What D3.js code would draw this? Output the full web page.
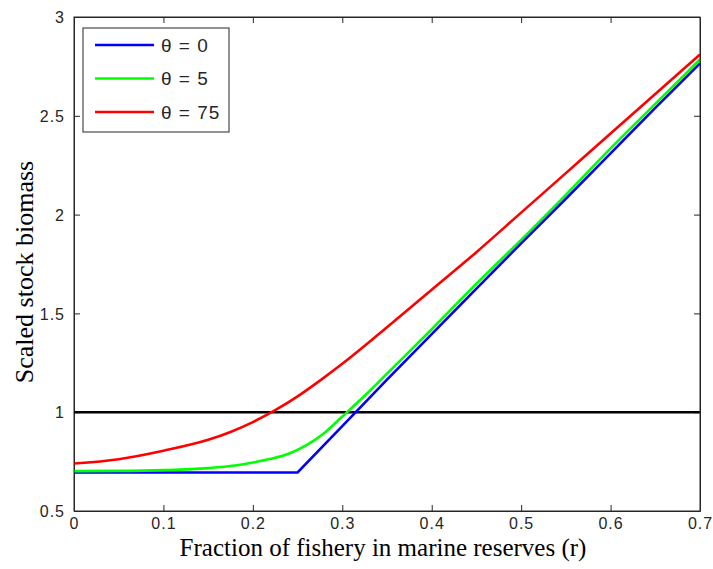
<!DOCTYPE html>
<html>
<head>
<meta charset="utf-8">
<script src="https://cdn.jsdelivr.net/npm/d3@7"></script>
<style>
  body { margin: 0; background: #fff; }
  .tick text { font-family: "Liberation Sans", Arial, sans-serif; }
</style>
</head>
<body>
<div id="chart"></div>
<script>
(function () {
  "use strict";

  /***** Données *****/
  // theta = 0
  var blueR = [0, 0.25, 0.3, 0.35, 0.4, 0.45, 0.5, 0.55, 0.6, 0.65, 0.7];
  var blueB = [0.695, 0.695, 0.93, 1.165, 1.395, 1.625, 1.855, 2.08, 2.31, 2.54, 2.765];
  // theta = 5
  var greenR = [0, 0.05, 0.1, 0.15, 0.18, 0.2, 0.22, 0.24, 0.26, 0.28, 0.3, 0.33, 0.35, 0.4, 0.45, 0.5, 0.55, 0.6, 0.65, 0.7];
  var greenB = [0.702, 0.703, 0.707, 0.717, 0.73, 0.745, 0.764, 0.79, 0.833, 0.895, 0.978, 1.105, 1.195, 1.42, 1.65, 1.872, 2.1, 2.335, 2.56, 2.785];
  // theta = 75
  var redR = [0, 0.05, 0.1, 0.15, 0.175, 0.2, 0.225, 0.25, 0.275, 0.3, 0.35, 0.4, 0.45, 0.5, 0.55, 0.6, 0.65, 0.7];
  var redB = [0.74, 0.762, 0.805, 0.86, 0.9, 0.95, 1.01, 1.08, 1.16, 1.245, 1.43, 1.62, 1.81, 2.01, 2.21, 2.41, 2.61, 2.81];

  var seriesNames = ["\u03b8 = 0", "\u03b8 = 5", "\u03b8 = 75"];
  var seriesColors = ["#0000ff", "#00ff00", "#ff0000"];
  var referenceLevel = 1;

  var xTicks = [0, 0.1, 0.2, 0.3, 0.4, 0.5, 0.6, 0.7];
  var yTicks = [0.5, 1, 1.5, 2, 2.5, 3];

  /***** Configuration *****/
  var margin = {top: 17, right: 13, bottom: 58, left: 74},
      width = 713 - margin.left - margin.right,
      height = 569 - margin.top - margin.bottom;

  var x = d3.scaleLinear().domain([0, 0.7]).range([0, width]);
  var y = d3.scaleLinear().domain([0.5, 3]).range([height, 0]);

  var svg = d3.select("#chart").append("svg")
    .attr("width", 713)
    .attr("height", 569);

  var g = svg.append("g")
    .attr("transform", "translate(" + margin.left + "," + margin.top + ")");

  var axisColor = "#262626";
  var fmt = function (d) { return d === 0 ? "0" : String(d); };

  // axes bas / haut
  var xBottom = g.append("g").attr("transform", "translate(0," + height + ")")
    .call(d3.axisBottom(x).tickValues(xTicks).tickFormat(fmt).tickSizeInner(-6).tickSizeOuter(0).tickPadding(7));
  var xTop = g.append("g")
    .call(d3.axisTop(x).tickValues(xTicks.slice(1, -1)).tickFormat("").tickSizeInner(-6).tickSizeOuter(0));
  var yLeft = g.append("g")
    .call(d3.axisLeft(y).tickValues(yTicks).tickFormat(fmt).tickSizeInner(-6).tickSizeOuter(0).tickPadding(9));
  var yRight = g.append("g").attr("transform", "translate(" + width + ",0)")
    .call(d3.axisRight(y).tickValues(yTicks.slice(1, -1)).tickFormat("").tickSizeInner(-6).tickSizeOuter(0));

  [xBottom, xTop, yLeft, yRight].forEach(function (a) {
    a.select(".domain").attr("stroke", axisColor);
    a.selectAll(".tick line").attr("stroke", axisColor);
    a.selectAll(".tick text")
      .attr("fill", axisColor)
      .style("font-size", "16px")
      .style("letter-spacing", "1px");
  });
  yLeft.selectAll(".tick text").attr("dy", "0.36em");

  // ligne de référence
  g.append("line")
    .attr("x1", x(0)).attr("x2", x(0.7))
    .attr("y1", y(referenceLevel)).attr("y2", y(referenceLevel))
    .attr("stroke", "#000").attr("stroke-width", 2.5);

  // courbes
  var series = [
    {r: blueR, b: blueB, curve: d3.curveLinear},
    {r: greenR, b: greenB, curve: d3.curveMonotoneX},
    {r: redR, b: redB, curve: d3.curveMonotoneX}
  ];

  series.forEach(function (s, i) {
    var pts = s.r.map(function (r, j) { return [r, s.b[j]]; });
    var line = d3.line()
      .x(function (d) { return x(d[0]); })
      .y(function (d) { return y(d[1]); })
      .curve(s.curve);
    g.append("path")
      .datum(pts)
      .attr("fill", "none")
      .attr("stroke", seriesColors[i])
      .attr("stroke-width", 2.6)
      .attr("d", line);
  });

  // cadre
  g.append("rect")
    .attr("width", width).attr("height", height)
    .attr("fill", "none").attr("stroke", axisColor);

  // légende
  var legend = g.append("g").attr("transform", "translate(9,11)");
  legend.append("rect")
    .attr("width", 146).attr("height", 104)
    .attr("fill", "#fff").attr("stroke", axisColor);
  seriesNames.forEach(function (name, i) {
    var ly = 17 + i * 33.5;
    legend.append("line")
      .attr("x1", 12).attr("x2", 71)
      .attr("y1", ly).attr("y2", ly)
      .attr("stroke", seriesColors[i]).attr("stroke-width", 2.6);
    legend.append("text")
      .attr("x", 78).attr("y", ly)
      .attr("dy", "0.36em")
      .attr("fill", axisColor)
      .style("font-family", "'Liberation Sans', Arial, sans-serif")
      .style("font-size", "19px")
      .style("letter-spacing", "1px")
      .text(name);
  });

  // titres des axes
  svg.append("text")
    .attr("x", margin.left + width / 2 - 4)
    .attr("y", 556)
    .attr("text-anchor", "middle")
    .style("font-family", "'Liberation Serif', 'Times New Roman', serif")
    .style("font-size", "25px")
    .text("Fraction of fishery in marine reserves (r)");

  svg.append("text")
    .attr("transform", "translate(33," + (margin.top + height / 2 + 8) + ") rotate(-90)")
    .attr("text-anchor", "middle")
    .style("font-family", "'Liberation Serif', 'Times New Roman', serif")
    .style("font-size", "26px")
    .text("Scaled stock biomass");
})();
</script>
</body>
</html>
